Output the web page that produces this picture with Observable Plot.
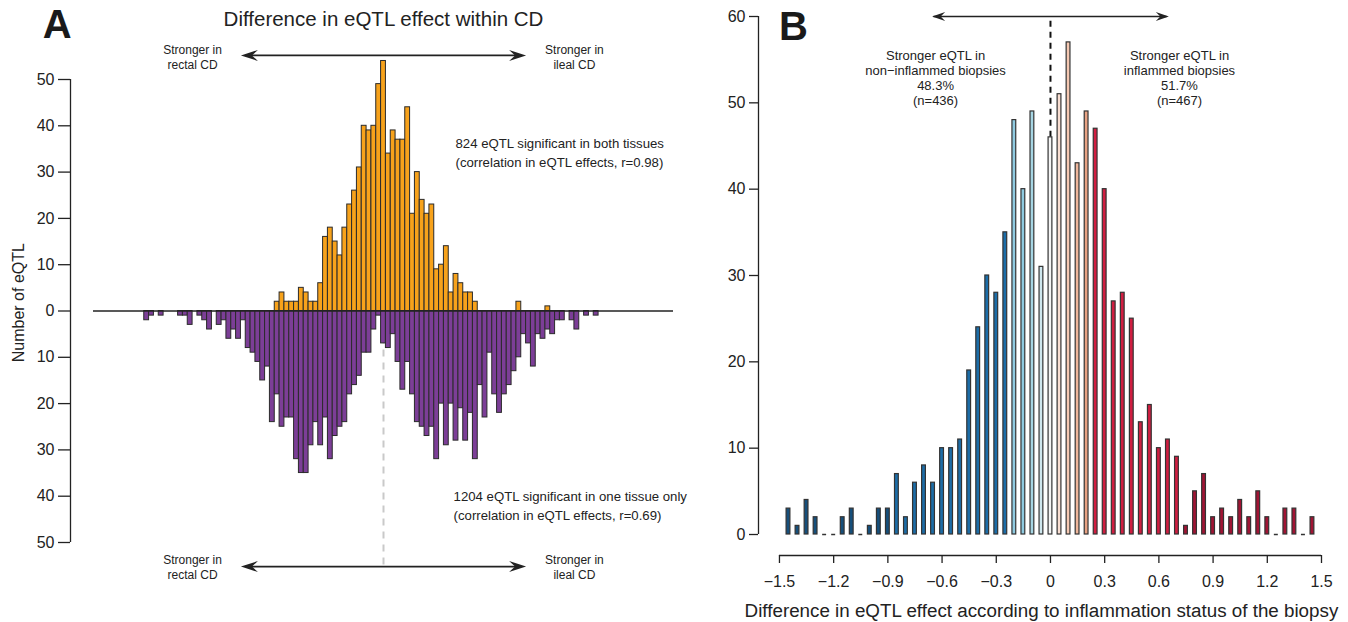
<!DOCTYPE html>
<html><head><meta charset="utf-8">
<script src="https://cdn.jsdelivr.net/npm/d3@7"></script>
<script src="https://cdn.jsdelivr.net/npm/@observablehq/plot@0.6"></script>
<style>
body{margin:0;background:#fff;}
#wrap{position:relative;width:1348px;height:622px;overflow:hidden;}
#wrap svg{position:absolute;top:0;}
</style></head><body><div id="wrap"></div>
<script>
// ---------- Panel A data (bins of equal width; bin 0 = no difference) ----------
const orangeStart = -22; // first bin with a bar (significant in both tissues)
const orangeCounts = [2,4,2,2,2,5,4,2,2,6,16,18,15,12,18,23,26,31,40,39,40,49,54,34,39,37,37,44,21,30,24,21,23,9,10,14,4,8,6,4,4,2,0,0,0,0,0,0,0,0,2,0,0,0,0,0,1];
const purpleStart = -49; // first bin (significant in one tissue only)
const purpleCounts = [2,1,0,1,0,0,0,1,1,3,
  0,1,2,4,0,3,2,6,4,6,
  2,8,9,11,15,12,24,18,25,23,
  23,32,35,35,29,24,29,23,32,27,
  25,24,18,16,14,9,9,4,1,
  7,8,5,11,17,11,18,24,25,27,
  25,32,20,29,20,28,21,28,22,32,
  16,23,9,18,22,18,16,13,10,5,
  7,12,5,6,4,5,2,2,0,2,
  4,0,1,0,1];
const yTicksA = [-50,-40,-30,-20,-10,0,10,20,30,40,50];

// ---------- Panel B data ----------
const binCentersB = [-1.45,-1.4,-1.35,-1.3,-1.25,-1.2,-1.15,-1.1,-1.05,-1,-0.95,-0.9,-0.85,-0.8,-0.75,-0.7,-0.65,-0.6,-0.55,-0.5,-0.45,-0.4,-0.35,-0.3,-0.25,-0.2,-0.15,-0.1,-0.05,0,0.05,0.1,0.15,0.2,0.25,0.3,0.35,0.4,0.45,0.5,0.55,0.6,0.65,0.7,0.75,0.8,0.85,0.9,0.95,1,1.05,1.1,1.15,1.2,1.25,1.3,1.35,1.4,1.45];
const countsB = [3,1,4,2,0,0,2,3,0,1,3,3,7,2,6,8,6,10,10,11,19,24,30,28,35,48,40,49,31,46,51,57,43,49,47,40,27,28,25,13,15,10,11,9,1,5,7,2,3,2,4,2,5,2,0,3,3,0,2];
const xTicksB = [-1.5,-1.2,-0.9,-0.6,-0.3,0,0.3,0.6,0.9,1.2,1.5];
const xTickLabelsB = ["\u22121.5","\u22121.2","\u22120.9","\u22120.6","\u22120.3","0","0.3","0.6","0.9","1.2","1.5"];
const yTicksB = [0,10,20,30,40,50,60];

// ---------- styles ----------
const FONT = "'Liberation Sans', Arial, Helvetica, sans-serif";
function colorB(c) {
  if (c <= -0.9) return "#164f7b";
  if (c <= -0.25) return "#1c6da8";
  if (c <= -0.15) return "#8fcae0";
  if (c <= -0.1) return "#a6d5e3";
  if (c <= -0.05) return "#cfe7ee";
  if (c <= 0) return "#f5f5f5";
  if (c <= 0.05) return "#fadfd2";
  if (c <= 0.1) return "#f5c8b2";
  if (c <= 0.15) return "#efb69b";
  if (c <= 0.2) return "#e8a283";
  if (c <= 0.7) return "#d01e41";
  return "#a11434";
}
const headA = {draw(ctx){ctx.moveTo(0,0);ctx.lineTo(-17,-5.5);ctx.lineTo(-11,0);ctx.lineTo(-17,5.5);ctx.closePath();}};
const headB = {draw(ctx){ctx.moveTo(0,0);ctx.lineTo(-13,-4.5);ctx.lineTo(-8.5,0);ctx.lineTo(-13,4.5);ctx.closePath();}};

// ---------- Panel A ----------
const orangeData = orangeCounts.map((n,i)=>({bin: orangeStart+i, n})).filter(d=>d.n>0);
const purpleData = purpleCounts.map((n,i)=>({bin: purpleStart+i, n})).filter(d=>d.n>0);
const xMinA = -64.76, arrowYA = 55.2, arrowXA = 29.5;

const A = Plot.plot({
  width: 674, height: 622,
  marginLeft: 70, marginRight: 1, marginTop: 79, marginBottom: 80,
  x: {domain: [xMinA, 60], axis: null},
  y: {domain: [-50, 50]},
  style: {fontFamily: FONT, background: "transparent", overflow: "visible", color: "#222"},
  marks: [
    Plot.ruleX([0], {y1: 0, y2: -arrowYA, stroke: "#c9c9c9", strokeWidth: 2, strokeDasharray: "7,6"}),
    Plot.rect(orangeData, {x1: d=>d.bin-0.5, x2: d=>d.bin+0.5, y1: 0, y2: "n", fill: "#f7a21b", stroke: "#2b2b2b", strokeWidth: 1}),
    Plot.rect(purpleData, {x1: d=>d.bin-0.5, x2: d=>d.bin+0.5, y1: 0, y2: d=>-d.n, fill: "#7c3e97", stroke: "#2b2b2b", strokeWidth: 1}),
    Plot.ruleY([0], {x1: -60, x2: 60, stroke: "#222", strokeWidth: 1.3}),
    Plot.ruleX([xMinA], {y1: -50, y2: 50, stroke: "#222", strokeWidth: 1.3}),
    Plot.axisY(yTicksA, {anchor: "left", tickFormat: d=>String(Math.abs(d)), tickSize: 12, tickPadding: 4, fontSize: 16, strokeWidth: 1.3, label: null}),
    // arrows
    Plot.ruleY([arrowYA, -arrowYA], {x1: -arrowXA+1, x2: arrowXA-1, stroke: "#222", strokeWidth: 1.8}),
    Plot.dot([{x:-arrowXA,y:arrowYA,r:180},{x:arrowXA,y:arrowYA,r:0},{x:-arrowXA,y:-arrowYA,r:180},{x:arrowXA,y:-arrowYA,r:0}],
      {x:"x", y:"y", rotate:"r", symbol: headA, fill: "#222", stroke: "none"}),
    Plot.text([{x:-39.5,y:54.9},{x:-39.5,y:-55.25}], {x:"x", y:"y", text: ()=>"Stronger in\nrectal CD", fontSize: 12, lineHeight: 1.2, textAnchor: "middle", fill: "#222"}),
    Plot.text([{x:39.5,y:54.9},{x:39.5,y:-55.25}], {x:"x", y:"y", text: ()=>"Stronger in\nileal CD", fontSize: 12, lineHeight: 1.2, textAnchor: "middle", fill: "#222"}),
    Plot.text(["Difference in eQTL effect within CD"], {x: 0, y: 62.9, text: d=>d, fontSize: 20.5, fill: "#222"}),
    Plot.text(["A"], {x: -67.5, y: 61.8, text: d=>d, fontSize: 40, fontWeight: "bold", fill: "#1a1a1a"}),
    Plot.text(["Number of eQTL"], {x: -75.5, y: 1.8, text: d=>d, fontSize: 16, rotate: -90, fill: "#222"}),
    Plot.text(["824 eQTL significant in both tissues\n(correlation in eQTL effects, r=0.98)"], {x: 14.9, y: 34.4, text: d=>d, fontSize: 13.2, lineHeight: 1.45, textAnchor: "start", fill: "#222"}),
    Plot.text(["1204 eQTL significant in one tissue only\n(correlation in eQTL effects, r=0.69)"], {x: 14.5, y: -41.8, text: d=>d, fontSize: 13.2, lineHeight: 1.42, textAnchor: "start", fill: "#222"})
  ]
});

// ---------- Panel B ----------
const barsB = binCentersB.map((c,i)=>({c, n: countsB[i]}));
const zeroBinB = barsB.find(d=>d.c===0);
const xMinB = -1.616, yMinB = -2.432, arrowXB = 0.655;

const B = Plot.plot({
  width: 674, height: 622,
  marginLeft: 84, marginRight: 27, marginTop: 16, marginBottom: 67,
  x: {domain: [xMinB, 1.5]},
  y: {domain: [yMinB, 60]},
  style: {fontFamily: FONT, background: "transparent", overflow: "visible", color: "#222"},
  marks: [
    Plot.ruleX([0], {y1: zeroBinB.n, y2: 60, stroke: "#111", strokeWidth: 2, strokeDasharray: "6,5"}),
    Plot.rect(barsB.filter(d=>d.n>0), {x1: d=>d.c-0.0105, x2: d=>d.c+0.0105, y1: 0, y2: "n", fill: d=>colorB(d.c), stroke: "#333", strokeWidth: 1.2}),
    Plot.ruleY(barsB.filter(d=>d.n===0), {y: 0, x1: d=>d.c-0.011, x2: d=>d.c+0.011, stroke: "#333", strokeWidth: 1.5}),
    Plot.ruleX([xMinB], {y1: 0, y2: 60, stroke: "#222", strokeWidth: 1.3}),
    Plot.ruleY([yMinB], {x1: -1.5, x2: 1.5, stroke: "#222", strokeWidth: 1.3}),
    Plot.axisY(yTicksB, {anchor: "left", tickSize: 9, tickPadding: 4, fontSize: 16, strokeWidth: 1.3, label: null}),
    Plot.axisX(xTicksB, {anchor: "bottom", tickSize: 8, tickPadding: 12, fontSize: 16, strokeWidth: 1.3, tickFormat: d=>xTickLabelsB[xTicksB.indexOf(d)], label: null}),
    Plot.ruleY([60], {x1: -arrowXB+0.01, x2: arrowXB-0.01, stroke: "#222", strokeWidth: 1.5}),
    Plot.dot([{x:-arrowXB,y:60,r:180},{x:arrowXB,y:60,r:0}], {x:"x", y:"y", rotate:"r", symbol: headB, fill: "#222", stroke: "none"}),
    Plot.text(["Stronger eQTL in\nnon\u2212inflammed biopsies\n48.3%\n(n=436)"], {x: -0.636, y: 52.9, text: d=>d, fontSize: 13, lineHeight: 1.16, textAnchor: "middle", fill: "#222"}),
    Plot.text(["Stronger eQTL in\ninflammed biopsies\n51.7%\n(n=467)"], {x: 0.714, y: 52.9, text: d=>d, fontSize: 13, lineHeight: 1.16, textAnchor: "middle", fill: "#222"}),
    Plot.text(["B"], {x: -1.422, y: 58.8, text: d=>d, fontSize: 40, fontWeight: "bold", fill: "#1a1a1a"}),
    Plot.text(["Difference in eQTL effect according to inflammation status of the biopsy"], {x: -0.05, y: -8.86, text: d=>d, fontSize: 18.8, fill: "#222"})
  ]
});

const wrap = document.getElementById("wrap");
B.style.left = "674px";
A.style.left = "0px";
wrap.appendChild(B);
wrap.appendChild(A);
</script>
</body></html>
